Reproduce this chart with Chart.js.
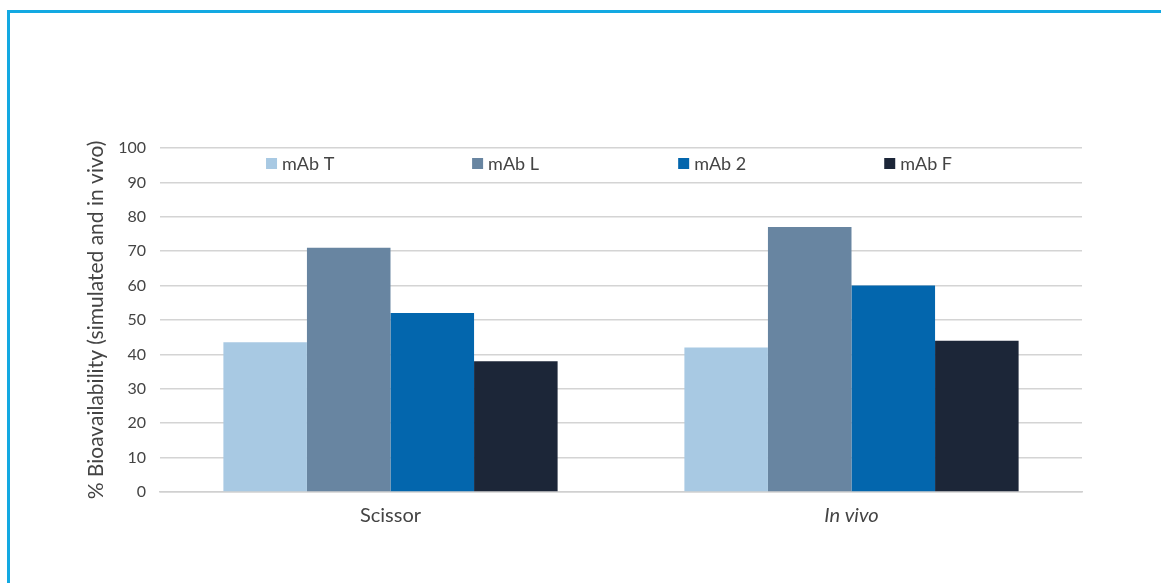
<!DOCTYPE html>
<html>
<head>
<meta charset="utf-8">
<script src="https://cdn.jsdelivr.net/npm/chart.js@4.4.0/dist/chart.umd.min.js"></script>
<style>
  html, body { margin: 0; padding: 0; background: #fff; }
  body { width: 1161px; height: 583px; position: relative; overflow: hidden; }
  .frame {
    position: absolute; left: 7px; top: 10px; width: 1200px; height: 620px;
    border-left: 3px solid #13a9e2; border-top: 3px solid #13a9e2;
  }
  #wrap { position: absolute; left: 0; top: 0; width: 1161px; height: 583px; }
</style>
</head>
<body>
<div class="frame"></div>
<div id="wrap"><canvas id="bioChart"></canvas></div>
<script>
// Dữ liệu biểu đồ
const categories = ['Scissor', 'In vivo'];
const seriesNames = ['mAb T', 'mAb L', 'mAb 2', 'mAb F'];
const mAbT = [43.5, 42];
const mAbL = [71, 77];
const mAb2 = [52, 60];
const mAbF = [38, 44];
const yTicks = [0, 10, 20, 30, 40, 50, 60, 70, 80, 90, 100];
const colors = ['#a8c9e3', '#6885a1', '#0366ad', '#1c2638'];

const FONT = 'Lato, "Open Sans", sans-serif';

// Legend vẽ bên trong vùng biểu đồ
const innerLegend = {
  id: 'innerLegend',
  afterDraw(chart) {
    const ctx = chart.ctx;
    const area = chart.chartArea;
    const w = area.right - area.left;
    const y = area.top + 15;
    ctx.save();
    ctx.font = '18px ' + FONT;
    ctx.textBaseline = 'middle';
    chart.data.datasets.forEach((ds, i) => {
      const x = area.left + w * 0.115 + i * w * 0.2235;
      ctx.fillStyle = ds.backgroundColor;
      ctx.fillRect(x, y - 5, 11, 11);
      ctx.fillStyle = '#444';
      ctx.fillText(ds.label, x + 16, y + 1);
    });
    ctx.restore();
  }
};

const datasets = [mAbT, mAbL, mAb2, mAbF].map((d, i) => ({
  label: seriesNames[i],
  data: d,
  backgroundColor: colors[i],
  borderWidth: 0,
  barPercentage: 1,
  categoryPercentage: 0.725
}));

new Chart(document.getElementById('bioChart'), {
  type: 'bar',
  data: { labels: categories, datasets: datasets },
  plugins: [innerLegend],
  options: {
    responsive: true,
    maintainAspectRatio: false,
    animation: false,
    layout: { padding: { left: 84, top: 148, right: 79, bottom: 51 } },
    plugins: {
      legend: { display: false },
      tooltip: { enabled: false }
    },
    scales: {
      x: {
        grid: { display: false },
        border: { color: '#d0d0d0', width: 1.5 },
        ticks: {
          color: '#444',
          padding: 4,
          font: (c) => ({ family: FONT, size: 20, style: c.index === 1 ? 'italic' : 'normal' })
        },
        afterFit: (s) => { s.height = 40; }
      },
      y: {
        min: 0,
        max: 100,
        afterBuildTicks: (s) => { s.ticks = yTicks.map(v => ({ value: v })); },
        grid: { color: '#d4d4d4', lineWidth: 1.5, drawTicks: false },
        border: { display: false },
        ticks: { color: '#444', padding: 14, font: { family: FONT, size: 16 } },
        title: {
          display: true,
          text: '% Bioavailability (simulated and in vivo)',
          color: '#444',
          font: { family: FONT, size: 21 },
          padding: 0
        },
        afterFit: (s) => { s.width = 76; }
      }
    }
  }
});
</script>
</body>
</html>
